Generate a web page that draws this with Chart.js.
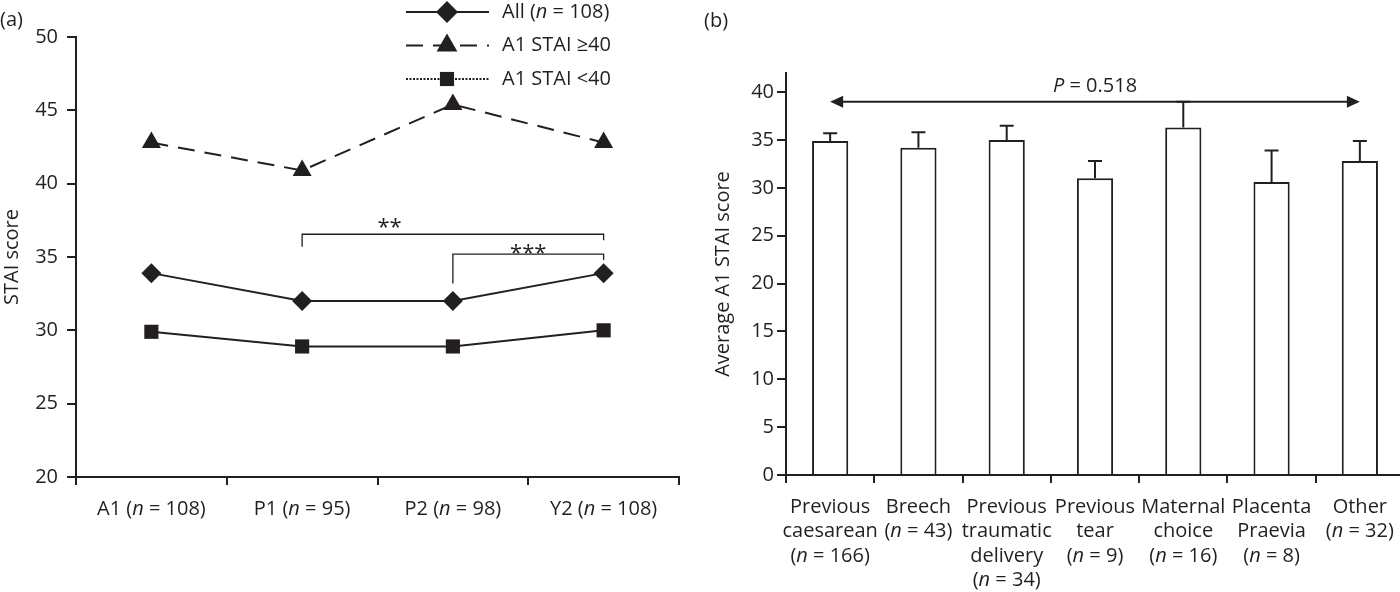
<!DOCTYPE html>
<html>
<head>
<meta charset="utf-8">
<script src="https://cdn.jsdelivr.net/npm/chart.js@4.4.1/dist/chart.umd.min.js"></script>
<style>
  html, body { margin: 0; padding: 0; background: #fff; overflow: hidden; }
  #wrap { position: relative; width: 1400px; height: 592px; }
  .pane { position: absolute; top: 0; height: 592px; }
</style>
</head>
<body>
<div id="wrap">
  <div class="pane" style="left:0;width:690px"><canvas id="chartA"></canvas></div>
  <div class="pane" style="left:690px;width:714px"><canvas id="chartB"></canvas></div>
</div>
<script>
// panel (a): STAI score over time
const timepoints = ['A1 (n = 108)', 'P1 (n = 95)', 'P2 (n = 98)', 'Y2 (n = 108)'];
const seriesLabels = ['All (n = 108)', 'A1 STAI \u226540', 'A1 STAI <40'];
const allScores = [33.9, 32.0, 32.0, 33.9];
const highScores = [42.8, 40.9, 45.4, 42.8];
const lowScores = [29.9, 28.9, 28.9, 30.0];
const stars = [
  { from: 1, to: 3, y: 36.55, legs: [35.7, 36.15], text: '**', at: 1.58, textY: 37.4 },
  { from: 2, to: 3, y: 35.2, legs: [33.2, 34.8], text: '***', at: 2.5, textY: 35.6 }
];

// panel (b): A1 STAI by reason for caesarean
const reasons = [
  ['Previous', 'caesarean', '(n = 166)'],
  ['Breech', '(n = 43)'],
  ['Previous', 'traumatic', 'delivery', '(n = 34)'],
  ['Previous', 'tear', '(n = 9)'],
  ['Maternal', 'choice', '(n = 16)'],
  ['Placenta', 'Praevia', '(n = 8)'],
  ['Other', '(n = 32)']
];
const meanA1 = [34.9, 34.2, 35.0, 31.0, 36.3, 30.6, 32.8];
const semA1 = [0.8, 1.6, 1.5, 1.8, 2.7, 3.3, 2.1];
const bTicks = [0, 5, 10, 15, 20, 25, 30, 35, 40];
const pTest = { from: 0, to: 6, y: 39.0, text: 'P = 0.518', textY: 40.65 };

const INK = '#231f20';
const FONT = '"Open Sans", "Liberation Sans", Arial, sans-serif';
const FS = 20;

// text with italic n / P
function drawRich(ctx, text, x, y, align) {
  const parts = text.split(/(?<![A-Za-z])([nP])(?= =)/);
  const fonts = parts.map((p, i) => (i % 2 ? 'italic ' : '') + FS + 'px ' + FONT);
  let w = 0;
  parts.forEach((p, i) => { ctx.font = fonts[i]; w += ctx.measureText(p).width; });
  let cx = align === 'left' ? x : x - w / 2;
  ctx.textAlign = 'left';
  ctx.textBaseline = 'middle';
  ctx.fillStyle = INK;
  parts.forEach((p, i) => {
    ctx.font = fonts[i];
    ctx.fillText(p, cx, y);
    cx += ctx.measureText(p).width;
  });
}

function marker(ctx, style, x, y, r) {
  ctx.beginPath();
  if (style === 'rectRot') {
    ctx.moveTo(x, y - r); ctx.lineTo(x + r, y); ctx.lineTo(x, y + r); ctx.lineTo(x - r, y);
  } else if (style === 'triangle') {
    ctx.moveTo(x, y - r); ctx.lineTo(x + r * 0.866, y + r / 2); ctx.lineTo(x - r * 0.866, y + r / 2);
  } else {
    const s = r * Math.SQRT1_2;
    ctx.rect(x - s, y - s, 2 * s, 2 * s);
  }
  ctx.closePath();
  ctx.fillStyle = INK;
  ctx.fill();
}

const legendDash = [[], [17, 10], [2, 1.5]];
const legendSize = [11, 12, 10];

const panelA = {
  id: 'panelA',
  afterDraw(chart) {
    const ctx = chart.ctx;
    const x = chart.scales.x, y = chart.scales.y;
    ctx.save();
    drawRich(ctx, '(a)', 0, 20, 'left');
    // legend
    chart.data.datasets.forEach((ds, i) => {
      const ly = 12 + i * 33.5;
      ctx.strokeStyle = INK;
      ctx.lineWidth = 2;
      ctx.setLineDash(legendDash[i]);
      ctx.beginPath(); ctx.moveTo(406, ly); ctx.lineTo(489, ly); ctx.stroke();
      ctx.setLineDash([]);
      marker(ctx, ds.pointStyle, 447, ly, legendSize[i]);
      drawRich(ctx, ds.label, 502, ly, 'left');
    });
    // significance brackets
    ctx.lineWidth = 1.3;
    ctx.strokeStyle = INK;
    stars.forEach(s => {
      const x1 = x.getPixelForValue(s.from), x2 = x.getPixelForValue(s.to);
      const yy = y.getPixelForValue(s.y);
      ctx.beginPath();
      ctx.moveTo(x1, y.getPixelForValue(s.legs[0]));
      ctx.lineTo(x1, yy); ctx.lineTo(x2, yy);
      ctx.lineTo(x2, y.getPixelForValue(s.legs[1]));
      ctx.stroke();
      ctx.font = (FS + 2) + 'px ' + FONT;
      ctx.textAlign = 'center';
      ctx.textBaseline = 'alphabetic';
      ctx.fillStyle = INK;
      ctx.fillText(s.text, x.getPixelForValue(s.at), y.getPixelForValue(s.textY) + 12);
    });
    // category labels
    timepoints.forEach((t, i) => drawRich(ctx, t, x.getPixelForTick(i), x.top + 32, 'center'));
    ctx.restore();
  }
};

const panelB = {
  id: 'panelB',
  afterDraw(chart) {
    const ctx = chart.ctx;
    const x = chart.scales.x, y = chart.scales.y;
    ctx.save();
    drawRich(ctx, '(b)', 14, 21, 'left');
    // error bars
    ctx.strokeStyle = INK;
    ctx.lineWidth = 2;
    chart.getDatasetMeta(0).data.forEach((bar, i) => {
      const top = y.getPixelForValue(meanA1[i] + semA1[i]);
      ctx.beginPath();
      ctx.moveTo(bar.x, bar.y); ctx.lineTo(bar.x, top);
      ctx.moveTo(bar.x - 7, top); ctx.lineTo(bar.x + 7, top);
      ctx.stroke();
    });
    // comparison arrow
    const x1 = x.getPixelForTick(pTest.from), x2 = x.getPixelForTick(pTest.to);
    const ay = y.getPixelForValue(pTest.y);
    ctx.beginPath(); ctx.moveTo(x1 + 6, ay); ctx.lineTo(x2 - 6, ay); ctx.stroke();
    ctx.fillStyle = INK;
    ctx.beginPath(); ctx.moveTo(x1, ay); ctx.lineTo(x1 + 13, ay - 6); ctx.lineTo(x1 + 13, ay + 6); ctx.closePath(); ctx.fill();
    ctx.beginPath(); ctx.moveTo(x2, ay); ctx.lineTo(x2 - 13, ay - 6); ctx.lineTo(x2 - 13, ay + 6); ctx.closePath(); ctx.fill();
    drawRich(ctx, pTest.text, (x1 + x2) / 2, y.getPixelForValue(pTest.textY), 'center');
    // category labels
    reasons.forEach((lines, i) => {
      lines.forEach((l, k) => drawRich(ctx, l, x.getPixelForTick(i), x.top + 32 + k * 24.5, 'center'));
    });
    ctx.restore();
  }
};

const axisFont = { family: FONT, size: FS };

new Chart(document.getElementById('chartA'), {
  type: 'line',
  data: {
    labels: timepoints,
    datasets: [
      { label: seriesLabels[0], data: allScores, pointStyle: 'rectRot', pointRadius: 10, borderDash: [] },
      { label: seriesLabels[1], data: highScores, pointStyle: 'triangle', pointRadius: 11, borderDash: [17, 10] },
      { label: seriesLabels[2], data: lowScores, pointStyle: 'rect', pointRadius: 10, borderDash: [] }
    ].map(d => Object.assign(d, {
      borderColor: INK, backgroundColor: INK, pointBackgroundColor: INK,
      pointBorderColor: INK, pointBorderWidth: 0, borderWidth: 2, tension: 0, fill: false
    }))
  },
  options: {
    responsive: true,
    maintainAspectRatio: false,
    animation: false,
    layout: { padding: { top: 37, right: 5, left: 0, bottom: 0 } },
    plugins: { legend: { display: false }, tooltip: { enabled: false } },
    scales: {
      x: {
        offset: true,
        afterFit: s => { s.height = 115; },
        grid: { offset: true, drawOnChartArea: false, tickLength: 8, color: INK, lineWidth: 2 },
        border: { color: INK, width: 2 },
        ticks: { display: false }
      },
      y: {
        min: 20,
        max: 50,
        afterFit: s => { s.width = 76; },
        grid: { drawOnChartArea: false, tickLength: 9, color: INK, lineWidth: 2 },
        border: { color: INK, width: 2 },
        ticks: { stepSize: 5, padding: 9, color: INK, font: axisFont },
        title: { display: true, text: 'STAI score', color: INK, font: axisFont, padding: { top: 0, bottom: 0 } }
      }
    }
  },
  plugins: [panelA]
});

new Chart(document.getElementById('chartB'), {
  type: 'bar',
  data: {
    labels: reasons,
    datasets: [{
      label: 'Average A1 STAI score',
      data: meanA1,
      backgroundColor: '#ffffff',
      borderColor: INK,
      borderWidth: 2,
      barPercentage: 0.41,
      categoryPercentage: 1.0
    }]
  },
  options: {
    responsive: true,
    maintainAspectRatio: false,
    animation: false,
    layout: { padding: { top: 73, right: 0, left: 0, bottom: 0 } },
    plugins: { legend: { display: false }, tooltip: { enabled: false } },
    scales: {
      x: {
        afterFit: s => { s.height = 117; },
        grid: { offset: true, drawOnChartArea: false, tickLength: 8, color: INK, lineWidth: 2 },
        border: { color: INK, width: 2 },
        ticks: { display: false }
      },
      y: {
        min: 0,
        max: 42,
        afterFit: s => { s.width = 96; },
        afterBuildTicks: s => { s.ticks = bTicks.map(v => ({ value: v })); },
        grid: { drawOnChartArea: false, tickLength: 9, color: INK, lineWidth: 2 },
        border: { color: INK, width: 2 },
        ticks: { padding: 3, color: INK, font: axisFont },
        title: { display: true, text: 'Average A1 STAI score', color: INK, font: axisFont, padding: { top: 21, bottom: 0 } }
      }
    }
  },
  plugins: [panelB]
});
</script>
</body>
</html>
